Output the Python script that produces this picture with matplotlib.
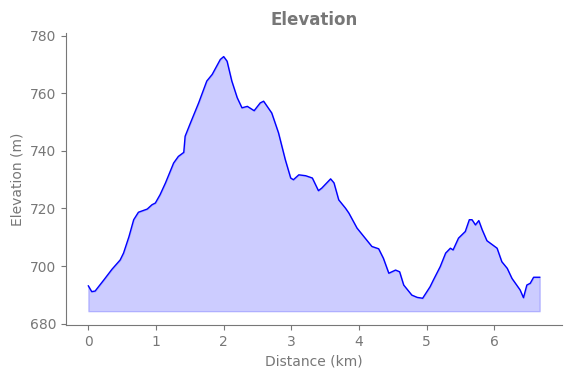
import matplotlib
matplotlib.use("Agg")
import matplotlib.pyplot as plt

distancia_km = [0.00, 0.05, 0.10, 0.23, 0.35, 0.47, 0.52, 0.60, 0.67, 0.74,
                0.87, 0.94, 0.99, 1.06, 1.14, 1.26, 1.33, 1.41, 1.43, 1.51,
                1.63, 1.75, 1.83, 1.95, 2.00, 2.05, 2.12, 2.20, 2.27, 2.35,
                2.45, 2.54, 2.59, 2.71, 2.81, 2.91, 2.99, 3.03, 3.11, 3.21,
                3.31, 3.40, 3.45, 3.58, 3.63, 3.70, 3.80, 3.85, 3.97, 4.09,
                4.19, 4.29, 4.36, 4.44, 4.54, 4.60, 4.66, 4.78, 4.86, 4.94,
                5.05, 5.10, 5.20, 5.28, 5.35, 5.39, 5.47, 5.57, 5.63, 5.67,
                5.72, 5.77, 5.82, 5.89, 6.04, 6.11, 6.19, 6.26, 6.38, 6.43,
                6.48, 6.53, 6.58, 6.67]
elevacao_m = [693.1, 691.1, 691.3, 695.2, 698.9, 702.1, 704.5, 710.2, 716.1, 718.7,
              719.8, 721.3, 721.9, 724.8, 728.9, 735.8, 738.1, 739.5, 745.1, 749.8,
              756.7, 764.3, 766.6, 771.8, 772.8, 771.2, 764.3, 758.5, 755.0, 755.5,
              754.0, 756.7, 757.3, 753.2, 746.3, 737.0, 730.6, 730.0, 731.7, 731.4,
              730.6, 726.2, 727.1, 730.3, 728.9, 723.0, 720.1, 718.4, 713.2, 709.7,
              706.8, 706.0, 702.7, 697.5, 698.6, 698.0, 693.4, 689.9, 689.1, 688.8,
              692.8, 695.2, 699.8, 704.5, 706.2, 705.6, 709.7, 712.0, 716.1, 716.1,
              714.3, 715.8, 712.6, 708.8, 706.2, 701.5, 699.2, 695.7, 691.7, 689.0,
              693.4, 694.0, 696.1, 696.1]

cinza = "#777777"

fig = plt.figure(figsize=(5.71, 3.78), dpi=100)
ax = fig.add_axes([0.1156, 0.1402, 0.8687, 0.7725])

base = min(elevacao_m) - 4.5
ax.plot(distancia_km, elevacao_m, color="blue", linewidth=1.0)
ax.fill_between(distancia_km, elevacao_m, base, color="blue", alpha=0.2)

ax.set_xlim(-0.33, 7.0)
ax.set_ylim(679.5, 781)
ax.set_xticks([0, 1, 2, 3, 4, 5, 6])
ax.set_yticks([680, 700, 720, 740, 760, 780])

ax.set_title("Elevation", fontsize=12, fontweight="bold", color=cinza)
ax.set_xlabel("Distance (km)", fontsize=10, color=cinza)
ax.set_ylabel("Elevation (m)", fontsize=10, color=cinza)

ax.spines["top"].set_visible(False)
ax.spines["right"].set_visible(False)
for lado in ["left", "bottom"]:
    ax.spines[lado].set_color(cinza)
ax.tick_params(colors=cinza, labelsize=10)

fig.savefig("out.png", dpi=100)
